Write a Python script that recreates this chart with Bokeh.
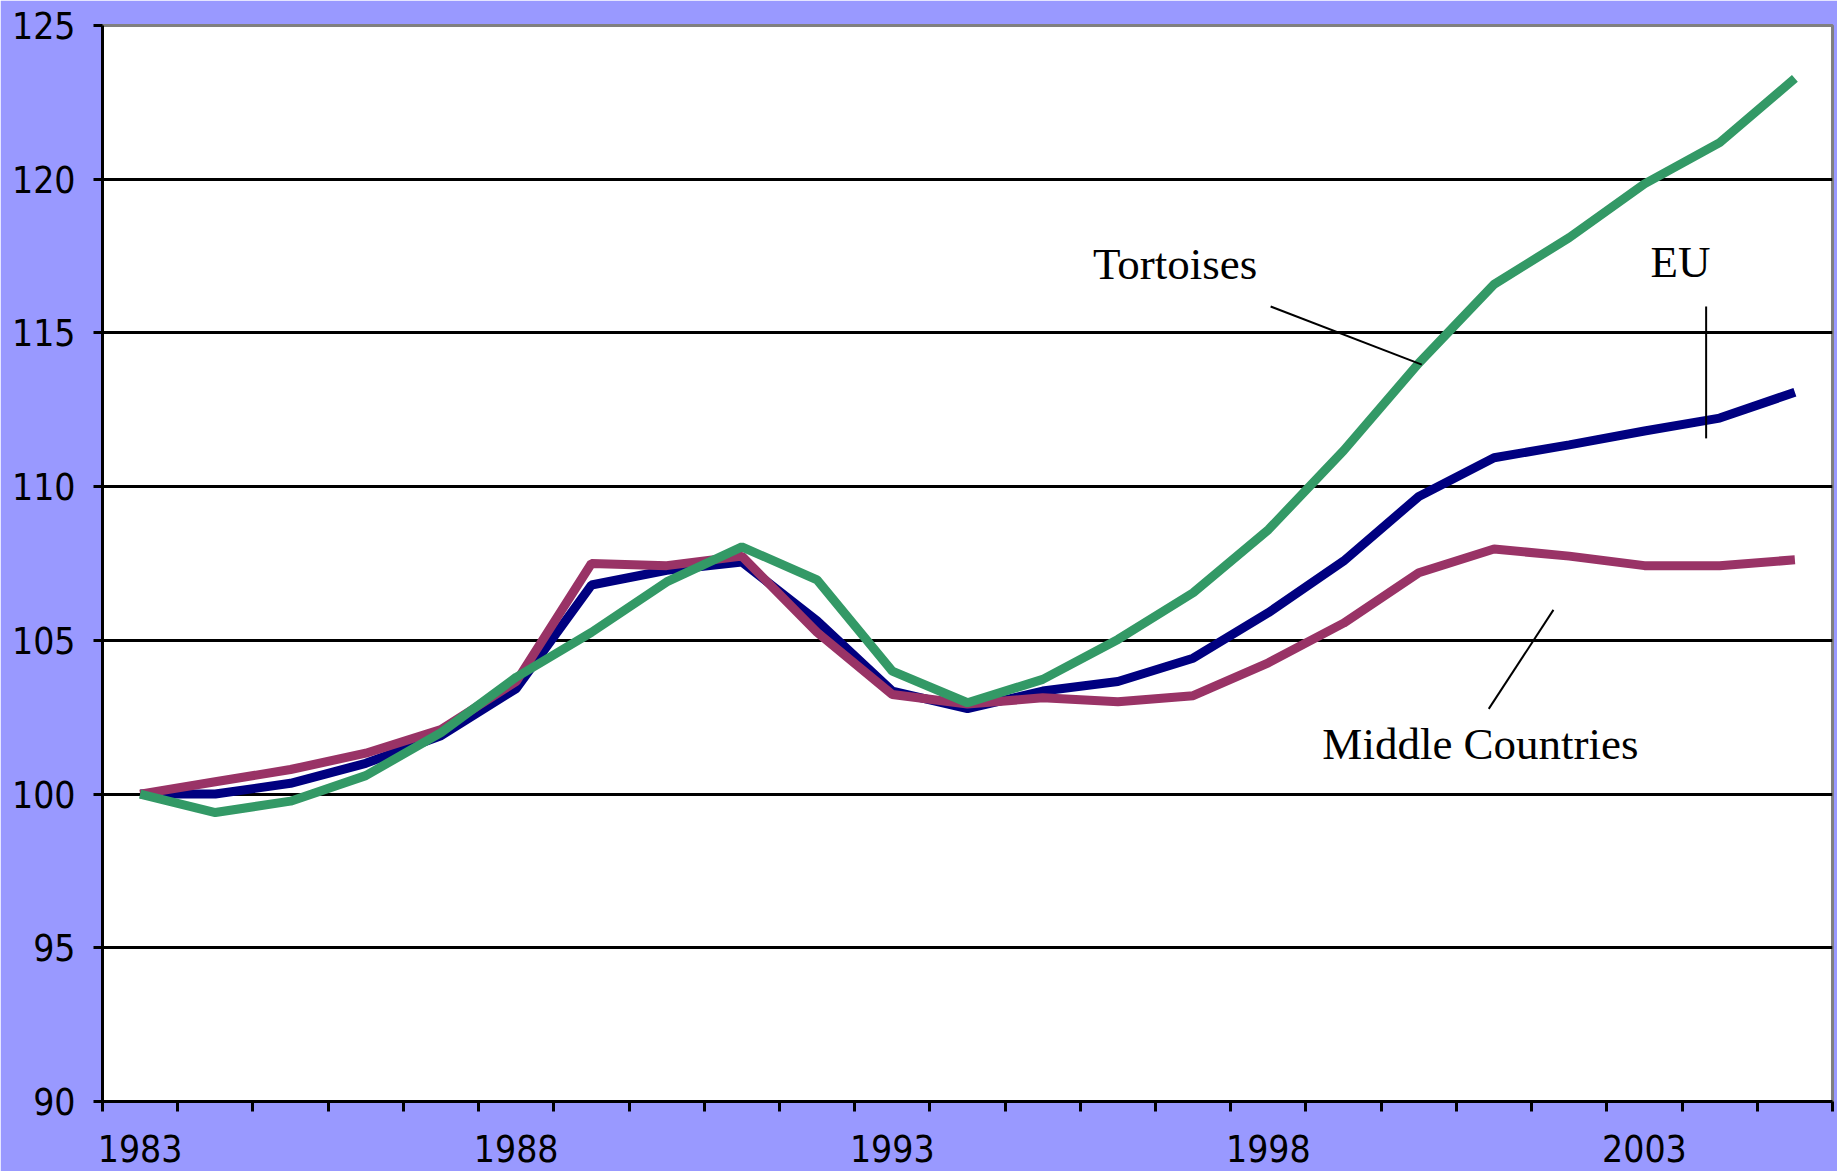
from bokeh.plotting import figure
from bokeh.models import Range1d, FixedTicker, ColumnDataSource
from bokeh.core.properties import value
from bokeh.embed import file_html
from bokeh.resources import INLINE

years = list(range(1983, 2006))
eu = [100.0, 100.0, 100.35, 101.0, 101.9, 103.43, 106.8, 107.28, 107.55, 105.64, 103.35,
      102.78, 103.35, 103.66, 104.42, 105.9, 107.58, 109.68, 110.94, 111.36, 111.81, 112.23, 113.07]
middle = [100.0, 100.4, 100.8, 101.33, 102.1, 103.66, 107.5, 107.43, 107.74, 105.26, 103.24,
          102.93, 103.13, 103.0, 103.2, 104.27, 105.56, 107.2, 107.97, 107.74, 107.43, 107.43, 107.62]
tortoises = [100.0, 99.4, 99.77, 100.6, 102.0, 103.8, 105.26, 106.9, 108.04, 106.97, 104.0,
             102.97, 103.73, 105.03, 106.55, 108.6, 111.17, 114.02, 116.58, 118.1, 119.85, 121.19, 123.28]
y_ticks = [90, 95, 100, 105, 110, 115, 120, 125]
label_years = years[::5]

BG = "#9999ff"
AXIS_FONT = "DejaVu Sans Condensed"
SERIF = "Liberation Serif"

p = figure(width=1837, height=1171, output_backend="svg", toolbar_location=None,
           x_range=Range1d(years[0] - 0.5, years[-1] + 0.5),
           y_range=Range1d(y_ticks[0], y_ticks[-1]),
           min_border_left=102, min_border_right=5, min_border_top=25, min_border_bottom=70)
p.border_fill_color = BG
p.background_fill_color = "white"
p.outline_line_color = "#808080"
p.outline_line_width = 3

# grid
p.xgrid.visible = False
p.ygrid.ticker = FixedTicker(ticks=y_ticks[1:-1])
p.ygrid.grid_line_color = "black"
p.ygrid.grid_line_width = 3

# y axis
p.yaxis.ticker = FixedTicker(ticks=y_ticks)
p.yaxis.axis_line_color = "black"
p.yaxis.axis_line_width = 3
p.yaxis.major_tick_line_color = "black"
p.yaxis.major_tick_line_width = 3
p.yaxis.major_tick_in = 0
p.yaxis.major_tick_out = 9
p.yaxis.minor_tick_line_color = None
p.yaxis.major_label_text_font = AXIS_FONT
p.yaxis.major_label_text_font_size = "37px"
p.yaxis.major_label_text_color = "black"
p.yaxis.major_label_standoff = 18

# x axis
p.xaxis.ticker = FixedTicker(ticks=label_years,
                             minor_ticks=[y - 0.5 for y in years] + [years[-1] + 0.5])
p.xaxis.axis_line_color = "black"
p.xaxis.axis_line_width = 3
p.xaxis.major_tick_line_color = None
p.xaxis.major_tick_in = 0
p.xaxis.major_tick_out = 0
p.xaxis.minor_tick_line_color = "black"
p.xaxis.minor_tick_line_width = 3
p.xaxis.minor_tick_in = 0
p.xaxis.minor_tick_out = 10
p.xaxis.major_label_text_font = AXIS_FONT
p.xaxis.major_label_text_font_size = "37px"
p.xaxis.major_label_text_color = "black"
p.xaxis.major_label_standoff = 23

src = ColumnDataSource(dict(year=years, eu=eu, middle=middle, tortoises=tortoises))
p.line("year", "eu", source=src, line_color="#000080", line_width=9)
p.line("year", "middle", source=src, line_color="#993366", line_width=9)
p.line("year", "tortoises", source=src, line_color="#339966", line_width=9)

# annotations (label text and leader lines)
ann_text = ["Tortoises", "EU", "Middle Countries"]
ann_x = [1996.76, 2003.48, 2000.82]
ann_y = [117.23, 117.3, 101.64]
p.text(x=ann_x, y=ann_y, text=ann_text, text_font=value(SERIF), text_font_size="45px",
       text_color="black", text_align="center", text_baseline="alphabetic")
p.segment(x0=[1998.03, 2003.82, 2001.79], y0=[115.86, 115.86, 105.99],
          x1=[2000.04, 2003.82, 2000.93], y1=[113.97, 111.57, 102.77],
          line_color="black", line_width=2)

html = file_html(p, INLINE)
html = html.replace("<body>", '<body style="background:%s">' % BG, 1)
open("out.html", "w").write(html)
